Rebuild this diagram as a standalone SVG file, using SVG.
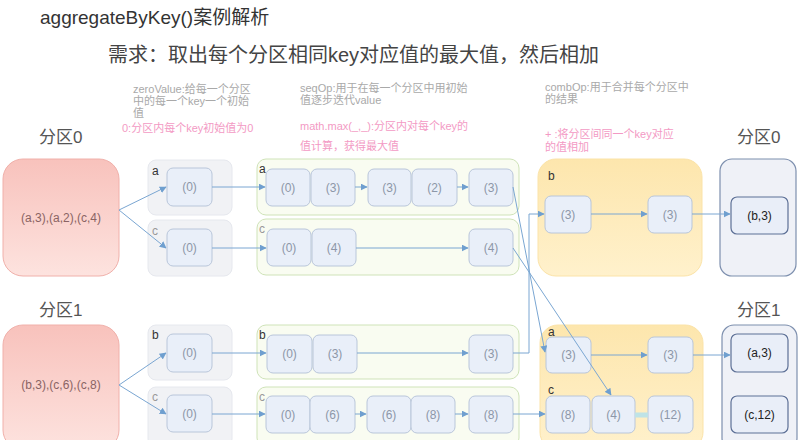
<svg xmlns="http://www.w3.org/2000/svg" width="806" height="440" viewBox="0 0 806 440">
<defs>
<linearGradient id="pink" x1="0" y1="0" x2="0" y2="1"><stop offset="0" stop-color="#f8c2bc"/><stop offset="1" stop-color="#fde3df"/></linearGradient>
<linearGradient id="yel" x1="0" y1="0" x2="0" y2="1"><stop offset="0" stop-color="#fde6ad"/><stop offset="1" stop-color="#fff1cc"/></linearGradient>
<marker id="arr" viewBox="0 0 10 10" refX="9" refY="5" markerWidth="7" markerHeight="7" orient="auto" markerUnits="userSpaceOnUse"><path d="M0,0 L10,5 L0,10 z" fill="#6f9fcf"/></marker>
<style>
text{font-family:"Liberation Sans","Noto Sans CJK SC",sans-serif}
.src{fill:url(#pink);stroke:#f0b0aa;stroke-width:1}
.grp{fill:#f1f2f5;stroke:#e6e8ee;stroke-width:1}
.grn{fill:#f9fcf1;stroke:#cfe3b8;stroke-width:1}
.yel{fill:url(#yel);stroke:#fbe3a8;stroke-width:1}
.out{fill:#eff1f7;stroke:#7d8fae;stroke-width:1.2}
.box{fill:#e9eff9;stroke:#b9c6da;stroke-width:1}
.obox{fill:#e9eef8;stroke:#5d7096;stroke-width:1.2}
.v{font-size:12px;fill:#8d97a8;text-anchor:middle}
.vd{font-size:12px;fill:#222;text-anchor:middle}
.k{font-size:12px;fill:#333}
.kl{font-size:12px;fill:#999}
.st{font-size:12px;fill:#8a6464;text-anchor:middle}
.note{font-size:11px;fill:#a9a9a9}
.pk{font-size:11px;fill:#f39ac4}
.part{font-size:17px;fill:#555}
.ln{fill:none;stroke:#7aa6d2;stroke-width:1;marker-end:url(#arr)}
</style>
</defs>
<rect width="806" height="440" fill="#fff"/>
<text x="40" y="24" font-size="19" fill="#333">aggregateByKey()案例解析</text>
<text x="108" y="62" font-size="20" fill="#444">需求：取出每个分区相同key对应值的最大值，然后相加</text>

<g id="notes">
<text class="note" x="133" y="93">zeroValue:给每一个分区</text>
<text class="note" x="133" y="105">中的每一个key一个初始</text>
<text class="note" x="133" y="117">值</text>
<text class="pk" x="122" y="132">0:分区内每个key初始值为0</text>
<text class="note" x="300" y="92">seqOp:用于在每一个分区中用初始</text>
<text class="note" x="300" y="104">值逐步迭代value</text>
<text class="pk" x="300" y="130">math.max(_,_):分区内对每个key的</text>
<text class="pk" x="300" y="150">值计算，获得最大值</text>
<text class="note" x="545" y="91">combOp:用于合并每个分区中</text>
<text class="note" x="545" y="103">的结果</text>
<text class="pk" x="545" y="138">+ :将分区间同一个key对应</text>
<text class="pk" x="545" y="151">的值相加</text>
</g>

<g id="part0-label"><text class="part" x="39" y="143">分区0</text></g>
<g id="part1-label"><text class="part" x="39" y="316">分区1</text></g>
<g id="out0-label"><text class="part" x="737" y="143">分区0</text></g>
<g id="out1-label"><text class="part" x="737" y="316">分区1</text></g>

<g id="src0"><rect class="src" x="3" y="159" width="116" height="117" rx="20"/><text class="st" x="61" y="222">(a,3),(a,2),(c,4)</text></g>
<g id="src1"><rect class="src" x="3" y="325" width="116" height="125" rx="20"/><text class="st" x="61" y="389">(b,3),(c,6),(c,8)</text></g>

<g id="zero-a"><rect class="grp" x="148" y="160" width="84" height="55" rx="8"/><text class="k" x="152" y="175">a</text>
<rect class="box" x="167" y="168" width="45" height="38" rx="6"/><text class="v" x="189.5" y="191">(0)</text></g>
<g id="zero-c"><rect class="grp" x="148" y="220" width="84" height="56" rx="8"/><text class="kl" x="152" y="235">c</text>
<rect class="box" x="167" y="229" width="45" height="37" rx="6"/><text class="v" x="189.5" y="252">(0)</text></g>
<g id="zero-b"><rect class="grp" x="148" y="325" width="84" height="55" rx="8"/><text class="k" x="152" y="339">b</text>
<rect class="box" x="167" y="334" width="45" height="38" rx="6"/><text class="v" x="189.5" y="357">(0)</text></g>
<g id="zero-c1"><rect class="grp" x="148" y="387" width="84" height="60" rx="8"/><text class="kl" x="152" y="401">c</text>
<rect class="box" x="167" y="395" width="45" height="37" rx="6"/><text class="v" x="189.5" y="418">(0)</text></g>

<g id="seq-a"><rect class="grn" x="257" y="159" width="262" height="56" rx="9"/><text class="k" x="259" y="173">a</text>
<rect class="box" x="266" y="169" width="44" height="37" rx="6"/><text class="v" x="288" y="192">(0)</text>
<rect class="box" x="311" y="169" width="44" height="37" rx="6"/><text class="v" x="333" y="192">(3)</text>
<rect class="box" x="368" y="169" width="43" height="37" rx="6"/><text class="v" x="389.5" y="192">(3)</text>
<rect class="box" x="412" y="169" width="45" height="37" rx="6"/><text class="v" x="434.5" y="192">(2)</text>
<rect class="box" x="469" y="169" width="44" height="37" rx="6"/><text class="v" x="491" y="192">(3)</text></g>
<g id="seq-c"><rect class="grn" x="257" y="219" width="262" height="56" rx="9"/><text class="kl" x="259" y="233">c</text>
<rect class="box" x="267" y="229" width="44" height="37" rx="6"/><text class="v" x="289" y="252">(0)</text>
<rect class="box" x="312" y="229" width="44" height="37" rx="6"/><text class="v" x="334" y="252">(4)</text>
<rect class="box" x="469" y="229" width="44" height="37" rx="6"/><text class="v" x="491" y="252">(4)</text></g>
<g id="seq-b"><rect class="grn" x="257" y="325" width="262" height="54" rx="9"/><text class="k" x="259" y="339">b</text>
<rect class="box" x="267" y="335" width="45" height="38" rx="6"/><text class="v" x="289.5" y="358">(0)</text>
<rect class="box" x="313" y="335" width="44" height="38" rx="6"/><text class="v" x="335" y="358">(3)</text>
<rect class="box" x="469" y="335" width="44" height="38" rx="6"/><text class="v" x="491" y="358">(3)</text></g>
<g id="seq-c1"><rect class="grn" x="257" y="387" width="262" height="60" rx="9"/><text class="kl" x="259" y="401">c</text>
<rect class="box" x="266" y="396" width="44" height="37" rx="6"/><text class="v" x="288" y="419">(0)</text>
<rect class="box" x="310" y="396" width="45" height="37" rx="6"/><text class="v" x="332.5" y="419">(6)</text>
<rect class="box" x="367" y="396" width="44" height="37" rx="6"/><text class="v" x="389" y="419">(6)</text>
<rect class="box" x="411" y="396" width="44" height="37" rx="6"/><text class="v" x="433" y="419">(8)</text>
<rect class="box" x="469" y="396" width="44" height="37" rx="6"/><text class="v" x="491" y="419">(8)</text></g>

<g id="comb-b"><rect class="yel" x="538" y="159" width="164" height="117" rx="18"/><text class="k" x="548" y="180">b</text>
<rect class="box" x="545" y="196" width="46" height="37" rx="6"/><text class="v" x="568" y="219">(3)</text>
<rect class="box" x="648" y="196" width="44" height="37" rx="6"/><text class="v" x="670" y="219">(3)</text></g>
<g id="comb-ac"><rect class="yel" x="540" y="325" width="163" height="125" rx="18"/><text class="k" x="548" y="336">a</text>
<rect class="box" x="546" y="337" width="45" height="36" rx="6"/><text class="v" x="568.5" y="359">(3)</text>
<rect class="box" x="648" y="337" width="45" height="36" rx="6"/><text class="v" x="670.5" y="359">(3)</text>
<text class="k" x="548" y="394">c</text>
<rect class="box" x="546" y="396" width="44" height="37" rx="6"/><text class="v" x="568" y="419">(8)</text>
<rect class="box" x="592" y="396" width="43" height="37" rx="6"/><text class="v" x="613.5" y="419" fill="#b9c3d0">(4)</text>
<rect class="box" x="648" y="396" width="45" height="37" rx="6"/><text class="v" x="670.5" y="419" fill="#b9c3d0">(12)</text></g>

<g id="out0"><rect class="out" x="720" y="159" width="76" height="117" rx="12"/>
<rect class="obox" x="731" y="197" width="57" height="37" rx="6"/><text class="vd" x="759.5" y="220">(b,3)</text></g>
<g id="out1"><rect class="out" x="722" y="325" width="75" height="125" rx="12"/>
<rect class="obox" x="731" y="334" width="57" height="38" rx="6"/><text class="vd" x="759.5" y="357">(a,3)</text>
<rect class="obox" x="731" y="396" width="57" height="37" rx="6"/><text class="vd" x="759.5" y="419" fill="#9aa3b3">(c,12)</text></g>

<g id="connectors">
<path class="ln" d="M119,210 L166,187"/>
<path class="ln" d="M119,210 L166,248"/>
<path class="ln" d="M212,187 L265,187"/>
<path class="ln" d="M212,248 L266,248"/>
<path class="ln" d="M355,187 L367,187"/>
<path class="ln" d="M457,187 L468,187"/>
<path class="ln" d="M356,248 L468,248"/>
<path class="ln" d="M119,385 L166,353"/>
<path class="ln" d="M119,385 L166,414"/>
<path class="ln" d="M212,353 L266,353"/>
<path class="ln" d="M212,414 L265,414"/>
<path class="ln" d="M357,353 L468,353"/>
<path class="ln" d="M355,414 L366,414"/>
<path class="ln" d="M455,414 L468,414"/>
<path class="ln" d="M513,353 L529,353 L529,214 L544,214"/>
<path class="ln" d="M513,187 L545,352"/>
<path class="ln" d="M513,248 L611,395"/>
<path class="ln" d="M513,414 L545,414"/>
<path class="ln" d="M591,214 L647,214"/>
<path class="ln" d="M692,214 L730,214"/>
<path class="ln" d="M591,355 L647,355"/>
<path class="ln" d="M693,355 L730,355"/>
<path d="M635,415 L648,415" stroke="#bfe3e6" stroke-width="5" fill="none"/>
</g>
</svg>
